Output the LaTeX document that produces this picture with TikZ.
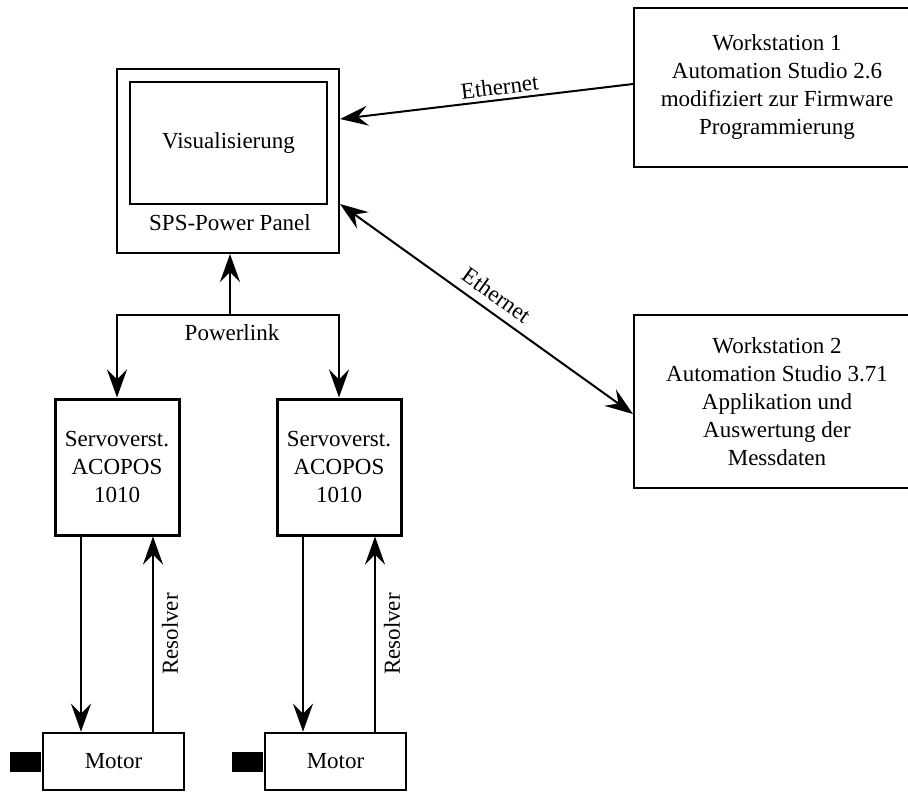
\documentclass[tikz,border=0pt]{standalone}
\usepackage{fontspec}
\setmainfont{Liberation Serif}
\usetikzlibrary{arrows.meta, positioning, calc}

\begin{document}
\begin{tikzpicture}[
    x=0.5pt, y=-0.5pt,
    % Global Styles
    font=\fontsize{11.5}{14}\selectfont,
    % Styles for different component types
    panel/.style={
        rectangle,
        draw=black,
        fill=white,
        line width=1pt,
        minimum width=111pt,
        minimum height=92pt,
        inner sep=0pt
    },
    screen/.style={
        rectangle,
        draw=black,
        line width=1.3pt,
        minimum width=98.5pt,
        minimum height=61pt,
        align=center
    },
    servo/.style={
        rectangle,
        draw=black,
        fill=white,
        line width=1.5pt,
        minimum width=62pt,
        minimum height=68pt,
        align=center
    },
    motor/.style={
        rectangle,
        draw=black,
        fill=white,
        line width=1.3pt,
        minimum width=70.5pt,
        minimum height=28.5pt,
        align=center
    },
    shaft/.style={
        rectangle,
        fill=black,
        minimum width=15.5pt,
        minimum height=10pt,
        inner sep=0pt
    },
    workstation/.style={
        rectangle,
        draw=black,
        fill=white,
        line width=1pt,
        minimum width=143pt,
        align=center
    },
    % Connector line style
    conn/.style={
        draw=black,
        -{Stealth[length=14pt,width=10pt,inset=5pt]},
        line width=1pt
    },
    biconn/.style={
        conn,
        {Stealth[length=14pt,width=10pt,inset=5pt]}-{Stealth[length=14pt,width=10pt,inset=5pt]}
    }
]
    \useasboundingbox (0,0) rectangle (908,792);

    % --- Nodes ---

    % 1. Power Panel with visualisation
    \node[panel] (sps) at (228,161) {};
    \node[screen] (visu) at (228.5,143) {Visualisierung};
    \node (spslabel) at (230,223) {SPS-Power Panel};

    % 2. Workstations
    \node[workstation, minimum height=79.5pt] (ws1) at (777,87.5)
        {Workstation 1\\Automation Studio 2.6\\modifiziert zur Firmware\\Programmierung};
    \node[workstation, minimum height=86.5pt] (ws2) at (777,401.5)
        {Workstation 2\\Automation Studio 3.71\\Applikation und\\Auswertung der\\Messdaten};

    % 3. Servo drives
    \node[servo] (servo1) at (117,467) {Servoverst.\\ACOPOS\\1010};
    \node[servo] (servo2) at (339,467) {Servoverst.\\ACOPOS\\1010};

    % 4. Motors with shafts
    \node[motor] (motor1) at (113.5,761.5) {Motor};
    \node[motor] (motor2) at (335.5,761.5) {Motor};
    \node[shaft, left=0pt of motor1] (shaft1) {};
    \node[shaft, left=0pt of motor2] (shaft2) {};

    % --- Edges ---

    % Workstation 1 -> Panel
    \draw[conn] ([yshift=1.75pt]ws1.west) -- ([yshift=21pt]sps.east)
        node[pos=0.45, above, sloped, inner sep=2pt] {Ethernet};

    % Panel <-> Workstation 2
    \draw[biconn] ([yshift=-21.5pt]sps.east) -- ([yshift=-6.25pt]ws2.west)
        node[pos=0.5, above, sloped, inner sep=4pt] {Ethernet};

    % Powerlink bus
    \coordinate (bus) at ([xshift=1pt]sps.south |- 0,315);
    \draw[conn] (bus) -- ([xshift=1pt]sps.south);
    \draw[conn] (bus) -| (servo1.north);
    \draw[conn] (bus) -| (servo2.north);
    \node (powerlink) at (232,333) {Powerlink};

    % Servo -> Motor and Resolver feedback
    \foreach \s/\m in {servo1/motor1, servo2/motor2} {
        \draw[conn] ([xshift=-18pt]\s.south) -- ([xshift=-18pt]\s.south |- \m.north);
        \draw[conn] ([xshift=18pt]\s.south |- \m.north) -- ([xshift=18pt]\s.south)
            node[midway, below, sloped, inner sep=4pt] {Resolver};
    }

\end{tikzpicture}
\end{document}
